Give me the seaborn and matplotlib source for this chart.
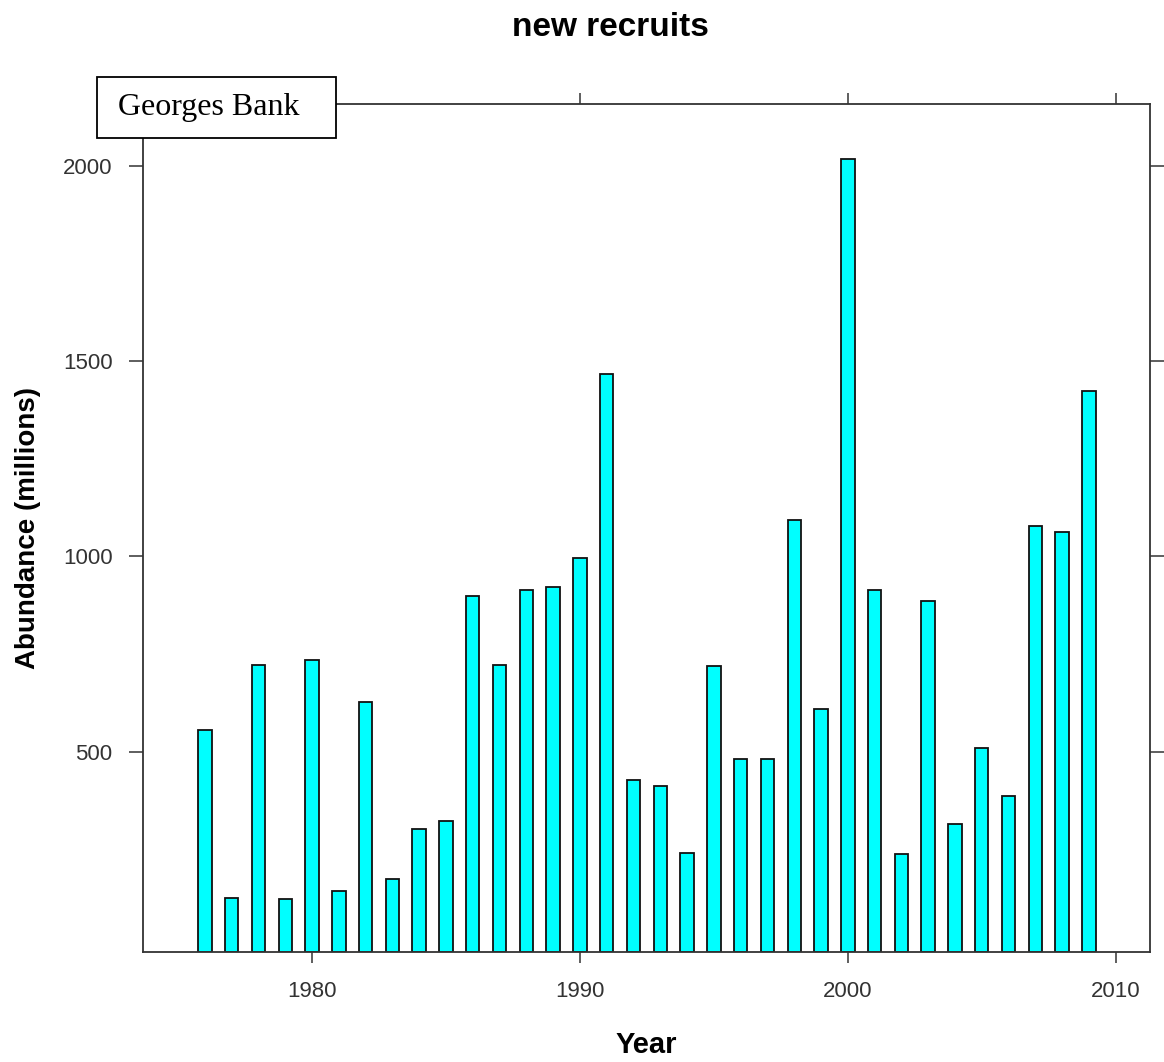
import matplotlib
matplotlib.use("Agg")
import matplotlib.pyplot as plt
from matplotlib.patches import Rectangle
import seaborn as sns
import pandas as pd

years = list(range(1976, 2010))
abundance = [555, 126, 722, 123, 734, 142, 628, 175, 303, 322,
             898, 722, 914, 921, 995, 1468, 428, 412, 241, 718,
             481, 481, 1093, 608, 2018, 913, 237, 885, 314, 510,
             387, 1077, 1061, 1424]
x_ticks = [1980, 1990, 2000, 2010]
y_ticks = [500, 1000, 1500, 2000]
title = "new recruits"
x_label = "Year"
y_label = "Abundance (millions)"
panel_label = "Georges Bank"

Y_MIN, Y_MAX = -13, 2158
X_MIN, X_MAX = 1973.69, 2011.28

sns.set_theme(style="white")
plt.rcParams['font.family'] = ['Liberation Sans', 'DejaVu Sans']

W, H = 1164, 1062
fig = plt.figure(figsize=(W / 100, H / 100), dpi=100)
ax = fig.add_axes([143 / W, 1 - 952 / H, (1150 - 143) / W, (952 - 104) / H])

df = pd.DataFrame({"Year": years, "Abundance": abundance})
df["height"] = df["Abundance"] - Y_MIN

sns.barplot(data=df, x="Year", y="height", native_scale=True, width=0.5,
            color="#00FFFF", saturation=1, edgecolor="#111111", linewidth=1.3,
            errorbar=None, bottom=Y_MIN, ax=ax)

ax.set_xlim(X_MIN, X_MAX)
ax.set_ylim(Y_MIN, Y_MAX)
ax.set_xticks(x_ticks)
ax.set_xticklabels([str(t) for t in x_ticks])
ax.set_yticks(y_ticks)
ax.set_yticklabels([str(t) for t in y_ticks])

for s in ax.spines.values():
    s.set_color("#333333")
    s.set_linewidth(1.3)
    s.set_visible(True)

ax.tick_params(axis="x", which="both", direction="out", length=8, width=1.1,
               color="#333333", bottom=True, top=True, labelbottom=True,
               labeltop=False, labelsize=16, labelcolor="#333333", pad=13)
ax.tick_params(axis="y", which="both", direction="out", length=10, width=1.1,
               color="#333333", left=True, right=True, labelleft=True,
               labelright=False, labelsize=16, labelcolor="#333333", pad=12)

ax.set_xlabel(x_label, fontsize=21, fontweight="bold", color="black")
ax.xaxis.set_label_coords((646 - 143) / (1150 - 143), -(1031 - 952) / (952 - 104))
ax.set_ylabel(y_label, fontsize=20, fontweight="bold", color="black")
ax.yaxis.set_label_coords(-(143 - 41) / (1150 - 143), 0.5)

fig.text(610 / W, 1 - 27 / H, title, ha="center", va="center",
         fontsize=24, fontweight="bold", color="black")

rect = Rectangle((97 / W, 1 - 138 / H), (336 - 97) / W, (138 - 77) / H,
                 transform=fig.transFigure, facecolor="white",
                 edgecolor="black", linewidth=1.3, zorder=5)
fig.add_artist(rect)
fig.text(118 / W, 1 - 107 / H, panel_label, ha="left", va="center",
         fontsize=23, family=["Liberation Serif", "DejaVu Serif"],
         color="black", zorder=6)

fig.savefig("out.png", dpi=100)
